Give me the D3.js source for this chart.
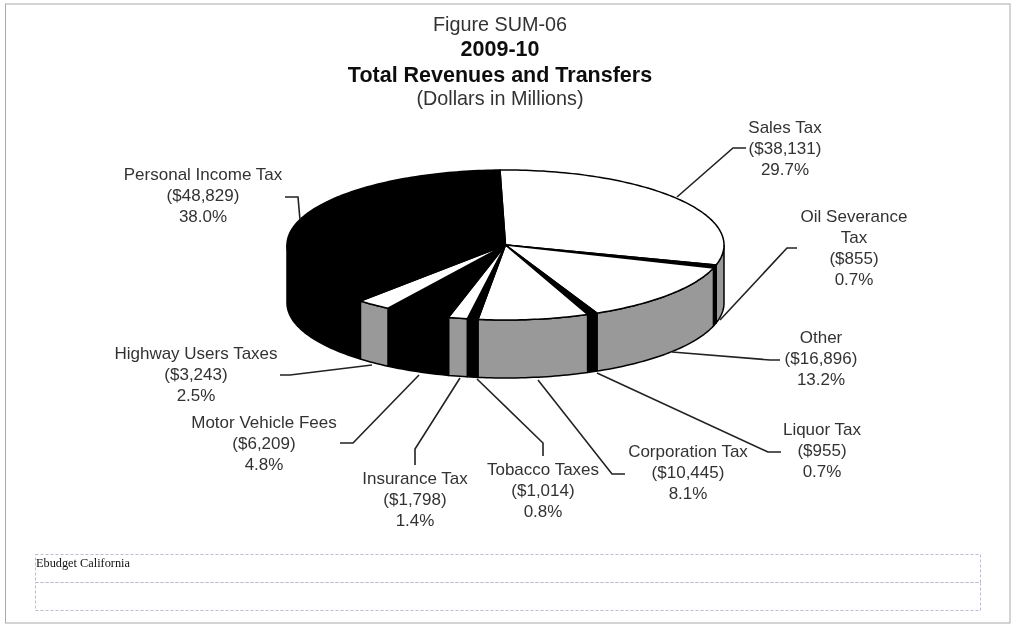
<!DOCTYPE html>
<html><head><meta charset="utf-8">
<script src="https://cdn.jsdelivr.net/npm/d3@7"></script>
<style>html,body{margin:0;padding:0;background:#fff}svg{display:block}</style>
</head><body><svg id="c" width="1020" height="624"></svg>
<script>
const categories = ["Sales Tax","Oil Severance Tax","Other","Liquor Tax","Corporation Tax","Tobacco Taxes","Insurance Tax","Motor Vehicle Fees","Highway Users Taxes","Personal Income Tax"];
const values = [38131,855,16896,955,10445,1014,1798,6209,3243,48829];
const percents = ["29.7%","0.7%","13.2%","0.7%","8.1%","0.8%","1.4%","4.8%","2.5%","38.0%"];
const titleLines = ["Figure SUM-06","2009-10","Total Revenues and Transfers","(Dollars in Millions)"];
const topFill = ["#fff","#000","#fff","#000","#fff","#000","#fff","#000","#fff","#000"];
const sideFill = ["#999","#000","#999","#000","#999","#000","#999","#000","#999","#000"];
const labelLines = [["Sales Tax"],["Oil Severance","Tax"],["Other"],["Liquor Tax"],["Corporation Tax"],["Tobacco Taxes"],["Insurance Tax"],["Motor Vehicle Fees"],["Highway Users Taxes"],["Personal Income Tax"]];
const labelAnchor = [[785,133],[854,222],[821,343],[822,435],[688,457],[543,475],[415,484],[264,428],[196,359],[203,180]];
const leaders = [
 [[677,197],[733,148],[746,148]],
 [[720,320],[787,248],[797,248]],
 [[672,352],[770,360],[780,360]],
 [[597,373],[768,452],[781,452]],
 [[538,380],[612,474],[625,474]],
 [[477,379],[543,443],[543,456]],
 [[460,378],[415,449],[415,465]],
 [[419,375],[353,443],[340,443]],
 [[372,365],[290,375],[280,375]],
 [[300,220],[298,197],[285,197]]];

const cx=505.5, cy=245, rx=218.5, ry=75, depth=58;
const svg=d3.select("#c");
const defs=svg.append("defs");
defs.append("filter").attr("id","soft").attr("x","0").attr("y","0").attr("width","100%").attr("height","100%")
  .append("feGaussianBlur").attr("stdDeviation",0.5);
const root=svg.append("g").attr("filter","url(#soft)");
root.append("rect").attr("width",1020).attr("height",624).attr("fill","#fff");
root.append("rect").attr("x",5.5).attr("y",4).attr("width",1004.5).attr("height",619)
  .attr("fill","none").attr("stroke","#aaa").attr("stroke-width",1);

const start=-1.45*Math.PI/180;
const pie=d3.pie().sort(null).startAngle(start).endAngle(start+2*Math.PI);
const arcs=pie(values);
const pt=(a,dy=0)=>[cx+rx*Math.sin(a),cy-ry*Math.cos(a)+dy];
const samples=(a,b)=>{const n=Math.max(2,Math.ceil((b-a)/0.02));return d3.range(n+1).map(i=>a+(b-a)*i/n);};
const line=d3.line();

// side walls
const wall=root.append("g");
arcs.forEach((d,i)=>{
  const a=Math.max(d.startAngle,Math.PI/2), b=Math.min(d.endAngle,3*Math.PI/2);
  if(b<=a) return;
  const s=samples(a,b);
  const p=s.map(t=>pt(t)).concat(s.slice().reverse().map(t=>pt(t,depth)));
  wall.append("path").attr("d",line(p)+"Z").attr("fill",sideFill[i]).attr("stroke","#000").attr("stroke-width",1.5).attr("stroke-linejoin","round");
});
// top
const top_=root.append("g");
arcs.forEach((d,i)=>{
  const p=[[cx,cy]].concat(samples(d.startAngle,d.endAngle).map(t=>pt(t)));
  top_.append("path").attr("d",line(p)+"Z").attr("fill",topFill[i]).attr("stroke","#000").attr("stroke-width",1.5).attr("stroke-linejoin","round");
});
// leaders
root.append("g").selectAll("path").data(leaders).join("path")
  .attr("d",d=>line(d)).attr("fill","none").attr("stroke","#222").attr("stroke-width",1.6);

// labels
const font="'Liberation Sans',Arial,sans-serif", fs=17, lh=21;
const fmt=d3.format("$,");
const lab=root.append("g").attr("font-family",font).attr("font-size",fs).attr("fill","#333").attr("text-anchor","middle");
categories.forEach((c,i)=>{
  const lines=labelLines[i].concat(["("+fmt(values[i])+")",percents[i]]);
  lines.forEach((t,j)=>lab.append("text").attr("x",labelAnchor[i][0]).attr("y",labelAnchor[i][1]+j*lh).text(t));
});
// title
const titleY=[31,56,82,105], titleW=["normal","bold","bold","normal"], titleS=[19.8,21.5,21.5,19.8];
root.append("g").attr("font-family",font).attr("text-anchor","middle").selectAll("text").data(titleLines).join("text")
  .attr("x",500).attr("y",(d,i)=>titleY[i]).attr("font-size",(d,i)=>titleS[i]).attr("font-weight",(d,i)=>titleW[i]).attr("fill",(d,i)=>titleW[i]=="bold"?"#111":"#333").text(d=>d);

// footer
const footRows=[[554,582],[582,610]];
root.append("g").selectAll("rect").data(footRows).join("rect")
  .attr("x",35.5).attr("y",d=>d[0]+.5).attr("width",945).attr("height",d=>d[1]-d[0])
  .attr("fill","none").attr("stroke","#bcbcd0").attr("stroke-dasharray","3,2");
root.append("text").attr("x",36).attr("y",567).attr("font-family","'Liberation Serif',serif").attr("font-size",12.3).attr("fill","#111").text("Ebudget California");
</script></body></html>
